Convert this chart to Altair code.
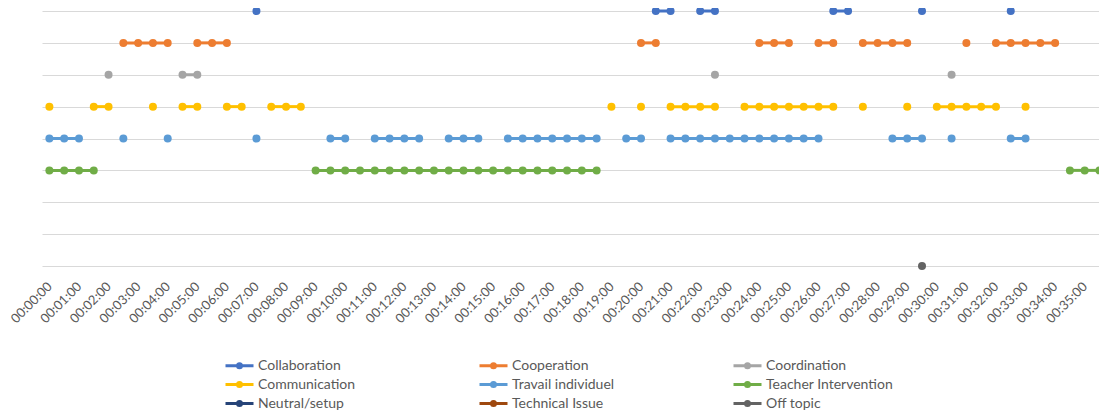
import altair as alt
import pandas as pd

# Categories (legend order) and their colours
series = ["Collaboration", "Cooperation", "Coordination",
          "Communication", "Travail individuel", "Teacher Intervention",
          "Neutral/setup", "Technical Issue", "Off topic"]
colors = ["#4472C4", "#ED7D31", "#A5A5A5",
          "#FFC000", "#5B9BD5", "#70AD47",
          "#264478", "#9E480E", "#636363"]
row_levels = [8, 7, 6, 5, 4, 3, 2, 1, 0]

# 30-second slot indices (slot 0 = 00:00:00) where each category is observed
collaboration = [14, 41, 42, 44, 45, 53, 54, 59, 65]
cooperation = [5, 6, 7, 8, 10, 11, 12, 40, 41, 48, 49, 50, 52, 53,
               55, 56, 57, 58, 62, 64, 65, 66, 67, 68]
coordination = [4, 9, 10, 45, 61]
communication = [0, 3, 4, 7, 9, 10, 12, 13, 15, 16, 17, 38, 40,
                 42, 43, 44, 45, 47, 48, 49, 50, 51, 52, 53,
                 55, 58, 60, 61, 62, 63, 64, 66]
travail_individuel = [0, 1, 2, 5, 8, 14, 19, 20, 22, 23, 24, 25, 27, 28, 29,
                      31, 32, 33, 34, 35, 36, 37, 39, 40,
                      42, 43, 44, 45, 46, 47, 48, 49, 50, 51, 52,
                      57, 58, 59, 61, 65, 66]
teacher_intervention = [0, 1, 2, 3,
                        18, 19, 20, 21, 22, 23, 24, 25, 26, 27,
                        28, 29, 30, 31, 32, 33, 34, 35, 36, 37,
                        69, 70, 71]
neutral_setup = []
technical_issue = []
off_topic = [59]

all_slots = [collaboration, cooperation, coordination, communication,
             travail_individuel, teacher_intervention, neutral_setup,
             technical_issue, off_topic]

slot_seconds = 30
tick_seconds = list(range(0, 2101, 60))

records = []
for name, lvl, slots in zip(series, row_levels, all_slots):
    seg = 0
    prev = None
    for s in slots:
        if prev is not None and s != prev + 1:
            seg += 1
        records.append({"series": name, "level": lvl, "t": s * slot_seconds,
                        "seg": f"{name}-{seg}"})
        prev = s
df = pd.DataFrame(records)

# legend glyph: a short line with a dot in the middle (Excel style)
legend_symbol = ("M-2,0L2,0M0.286,0A0.286,0.286,0,1,1,-0.286,0"
                 "A0.286,0.286,0,1,1,0.286,0")

chart = alt.Chart(df).mark_line(
    strokeWidth=3,
    point=alt.OverlayMarkDef(filled=True, size=64, opacity=1),
).encode(
    x=alt.X("t:Q",
            scale=alt.Scale(domain=[-15, 2129], nice=False, zero=False),
            axis=alt.Axis(values=tick_seconds,
                          labelExpr="utcFormat(datum.value*1000, '%H:%M:%S')",
                          labelAngle=-45, labelAlign="right",
                          labelBaseline="middle", labelPadding=18,
                          ticks=False, tickSize=0, domain=False, grid=False,
                          title=None, labelFont="Lato", labelFontSize=13,
                          labelColor="#595959", labelOverlap=False,
                          labelBound=False, labelFlush=False)),
    y=alt.Y("level:Q",
            scale=alt.Scale(domain=[0, 8], nice=False, zero=False),
            axis=alt.Axis(values=list(range(9)), labels=False, ticks=False,
                          domain=False, title=None, gridColor="#D9D9D9",
                          gridWidth=1)),
    color=alt.Color("series:N",
                    scale=alt.Scale(domain=series, range=colors),
                    legend=alt.Legend(orient="none", legendX=189, legendY=346,
                                      direction="horizontal",
                                      columns=3, gridAlign="all",
                                      columnPadding=88, rowPadding=2,
                                      title=None, labelFont="Lato",
                                      labelFontSize=14, labelColor="#595959",
                                      symbolType=legend_symbol,
                                      symbolSize=196, symbolStrokeWidth=3,
                                      labelOffset=10, padding=0)),
    detail="seg:N",
    order="t:Q",
).properties(
    width=1057,
    height=255,
    padding={"left": 34, "top": 3, "right": 0, "bottom": 147},
    autosize=alt.AutoSizeParams(type="none"),
).configure_view(stroke=None)

chart.save("out.html", embed_options={"renderer": "svg", "actions": False})
